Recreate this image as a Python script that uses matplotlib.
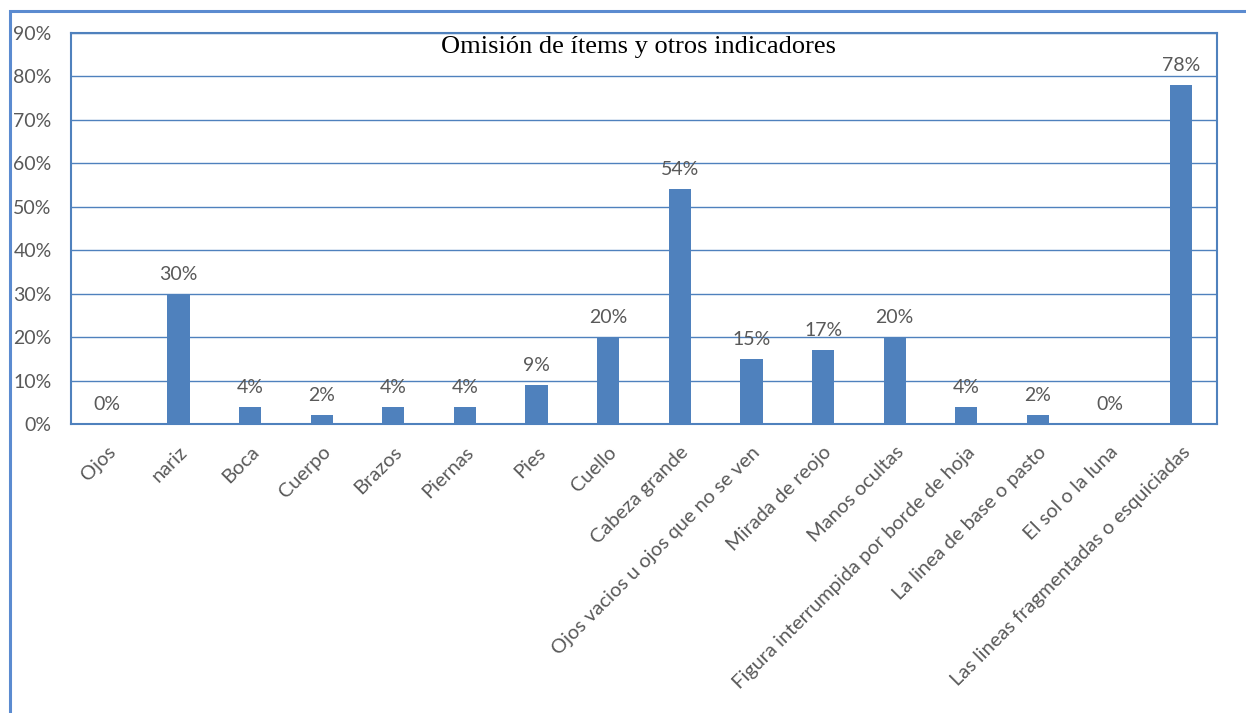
import matplotlib.pyplot as plt
from matplotlib.patches import Rectangle

# datos
categorias = ["Ojos", "nariz", "Boca", "Cuerpo", "Brazos", "Piernas", "Pies", "Cuello",
              "Cabeza grande", "Ojos vacios u ojos que no se ven", "Mirada de reojo",
              "Manos ocultas", "Figura interrumpida por borde de hoja",
              "La linea de base o pasto", "El sol o la luna",
              "Las lineas fragmentadas o esquiciadas"]
porcentajes = [0, 30, 4, 2, 4, 4, 9, 20, 54, 15, 17, 20, 4, 2, 0, 78]
ticks_y = [0, 10, 20, 30, 40, 50, 60, 70, 80, 90]

azul = "#4F81BD"
gris = "#595959"
fs = 14

fig = plt.figure(figsize=(12.46, 7.13), dpi=100)
ax = fig.add_axes([71 / 1246, 1 - 424 / 713, (1217 - 71) / 1246, (424 - 33) / 713])

x = range(len(categorias))
ax.bar(x, porcentajes, width=0.31, color=azul, zorder=3)
for xi, v in zip(x, porcentajes):
    ax.annotate(f"{v}%", (xi, v), xytext=(0, 8), textcoords="offset points",
                ha="center", va="bottom", fontsize=fs, color=gris, family="Lato")

ax.set_xlim(-0.5, len(categorias) - 0.5)
ax.set_ylim(0, 90)
ax.set_yticks(ticks_y)
ax.set_yticklabels([f"{t}%" for t in ticks_y], fontsize=fs, color=gris, family="Lato")
ax.set_xticks(list(x))
ax.set_xticklabels(categorias, rotation=45, ha="right", rotation_mode="anchor",
                   fontsize=14.4, color=gris, family="Lato")
ax.tick_params(axis="both", length=0)
ax.tick_params(axis="y", pad=14)
ax.tick_params(axis="x", pad=14)

ax.grid(axis="y", color=azul, linewidth=1, zorder=0)
for s in ax.spines.values():
    s.set_color(azul)
    s.set_linewidth(1.5)

ax.text(0.495, 0.963, "Omisión de ítems y otros indicadores", transform=ax.transAxes,
        ha="center", va="center", fontsize=19, family="Liberation Serif", color="black")

# marco exterior del grafico
fig.patches.append(Rectangle((10 / 1246, -0.05), 1.2, 1 - 11 / 713 + 0.05,
                             transform=fig.transFigure, fill=False,
                             edgecolor="#5B8BD0", linewidth=2.2))

fig.savefig("out.png", dpi=100)
